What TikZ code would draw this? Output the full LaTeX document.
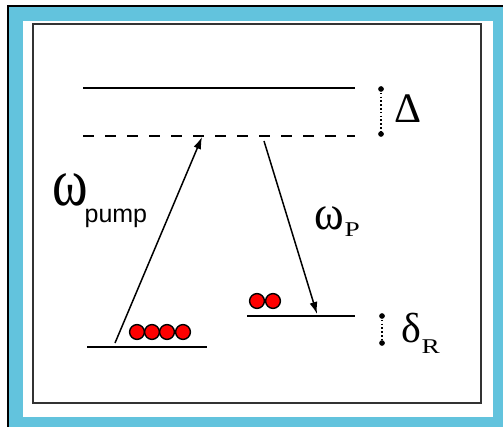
\documentclass[tikz,border=0pt]{standalone}
\usepackage{fontspec}
\setmainfont{Liberation Serif}
\setsansfont{Liberation Sans}
\usetikzlibrary{arrows.meta}
\definecolor{frameblue}{RGB}{98,195,221}

\begin{document}
\begin{tikzpicture}[x=0.5pt,y=-0.5pt,line width=0.6pt,
	level/.style={line width=1.2pt},
	virtual/.style={line width=1.2pt,dash pattern=on 5.5pt off 5.5pt},
	photon/.style={line width=0.75pt,-{Latex[length=6pt,width=4pt]}},
	gap/.style={line width=0.9pt,dash pattern=on 0.8pt off 1.1pt},
	atom/.style={circle,draw=black,fill=red,line width=0.7pt,minimum size=7.4pt,inner sep=0pt},
	lbl/.style={anchor=base west,inner sep=0pt}]
	\useasboundingbox (0,0) rectangle (503,427);
	% frame
	\fill[frameblue] (8,6) rectangle (503,427);
	\draw[line width=0.8pt] (8,427) -- (8,6) -- (503,6);
	\fill[white] (23,21) rectangle (493,417);
	\draw[line width=1pt,black!80] (33,24) rectangle (481,403);
	% levels
	\coordinate (upL) at (83,88);
	\coordinate (upR) at (355,88);
	\coordinate (virtL) at (83,136);
	\coordinate (virtR) at (355,136);
	\coordinate (gL) at (87,347);
	\coordinate (gR) at (207,347);
	\coordinate (sL) at (247,316);
	\coordinate (sR) at (355,316);
	\draw[level] (upL) -- (upR);
	\draw[virtual] (virtL) -- (virtR);
	\draw[level] (gL) -- (gR);
	\draw[level] (sL) -- (sR);
	% transitions
	\coordinate (pumpS) at (115,343);
	\coordinate (pumpE) at (202,137);
	\coordinate (stS) at (264,141);
	\coordinate (stE) at (317,314);
	\draw[photon] (pumpS) -- (pumpE);
	\draw[photon] (stS) -- (stE);
	% populations
	\foreach \x [count=\i] in {137,152,167,183}
		\node[atom] (g\i) at (\x,332) {};
	\node[atom] (e1) at (257,301) {};
	\node[atom] (e2) at (273,301) {};
	% detunings
	\coordinate (DeltaU) at (381,89);
	\coordinate (DeltaD) at (381,134);
	\coordinate (dRU) at (382,316);
	\coordinate (dRD) at (382,343);
	\draw[gap] (DeltaU) -- (DeltaD);
	\draw[gap] (dRU) -- (dRD);
	\filldraw (DeltaU) circle(1.1pt) (DeltaD) circle(1.1pt) (dRU) circle(1.1pt) (dRD) circle(1.1pt);
	% labels
	\node[lbl,font=\fontsize{21}{24}\selectfont] (Delta) at (394,123) {Δ};
	\node[lbl,font=\fontsize{21}{24}\selectfont] (dR) at (401,342) {δ};
	\node[lbl,font=\fontsize{10.5}{12}\selectfont] (R) at (421,353) {\scalebox{1.3}[1]{R}};
	\node[lbl,font=\fontsize{20}{22}\selectfont] (wpump) at (52,206) {\scalebox{1.35}[1.7]{ω}};
	\node[lbl,font=\sffamily\fontsize{12.5}{14}\selectfont] (pump) at (84,223) {pump};
	\node[lbl,font=\fontsize{18}{20}\selectfont] (wP) at (314,230) {\scalebox{1.25}[1.35]{ω}};
	\node[lbl,font=\fontsize{10.5}{12}\selectfont] (P) at (344,237) {\scalebox{1.3}[1]{P}};
\end{tikzpicture}
\end{document}
